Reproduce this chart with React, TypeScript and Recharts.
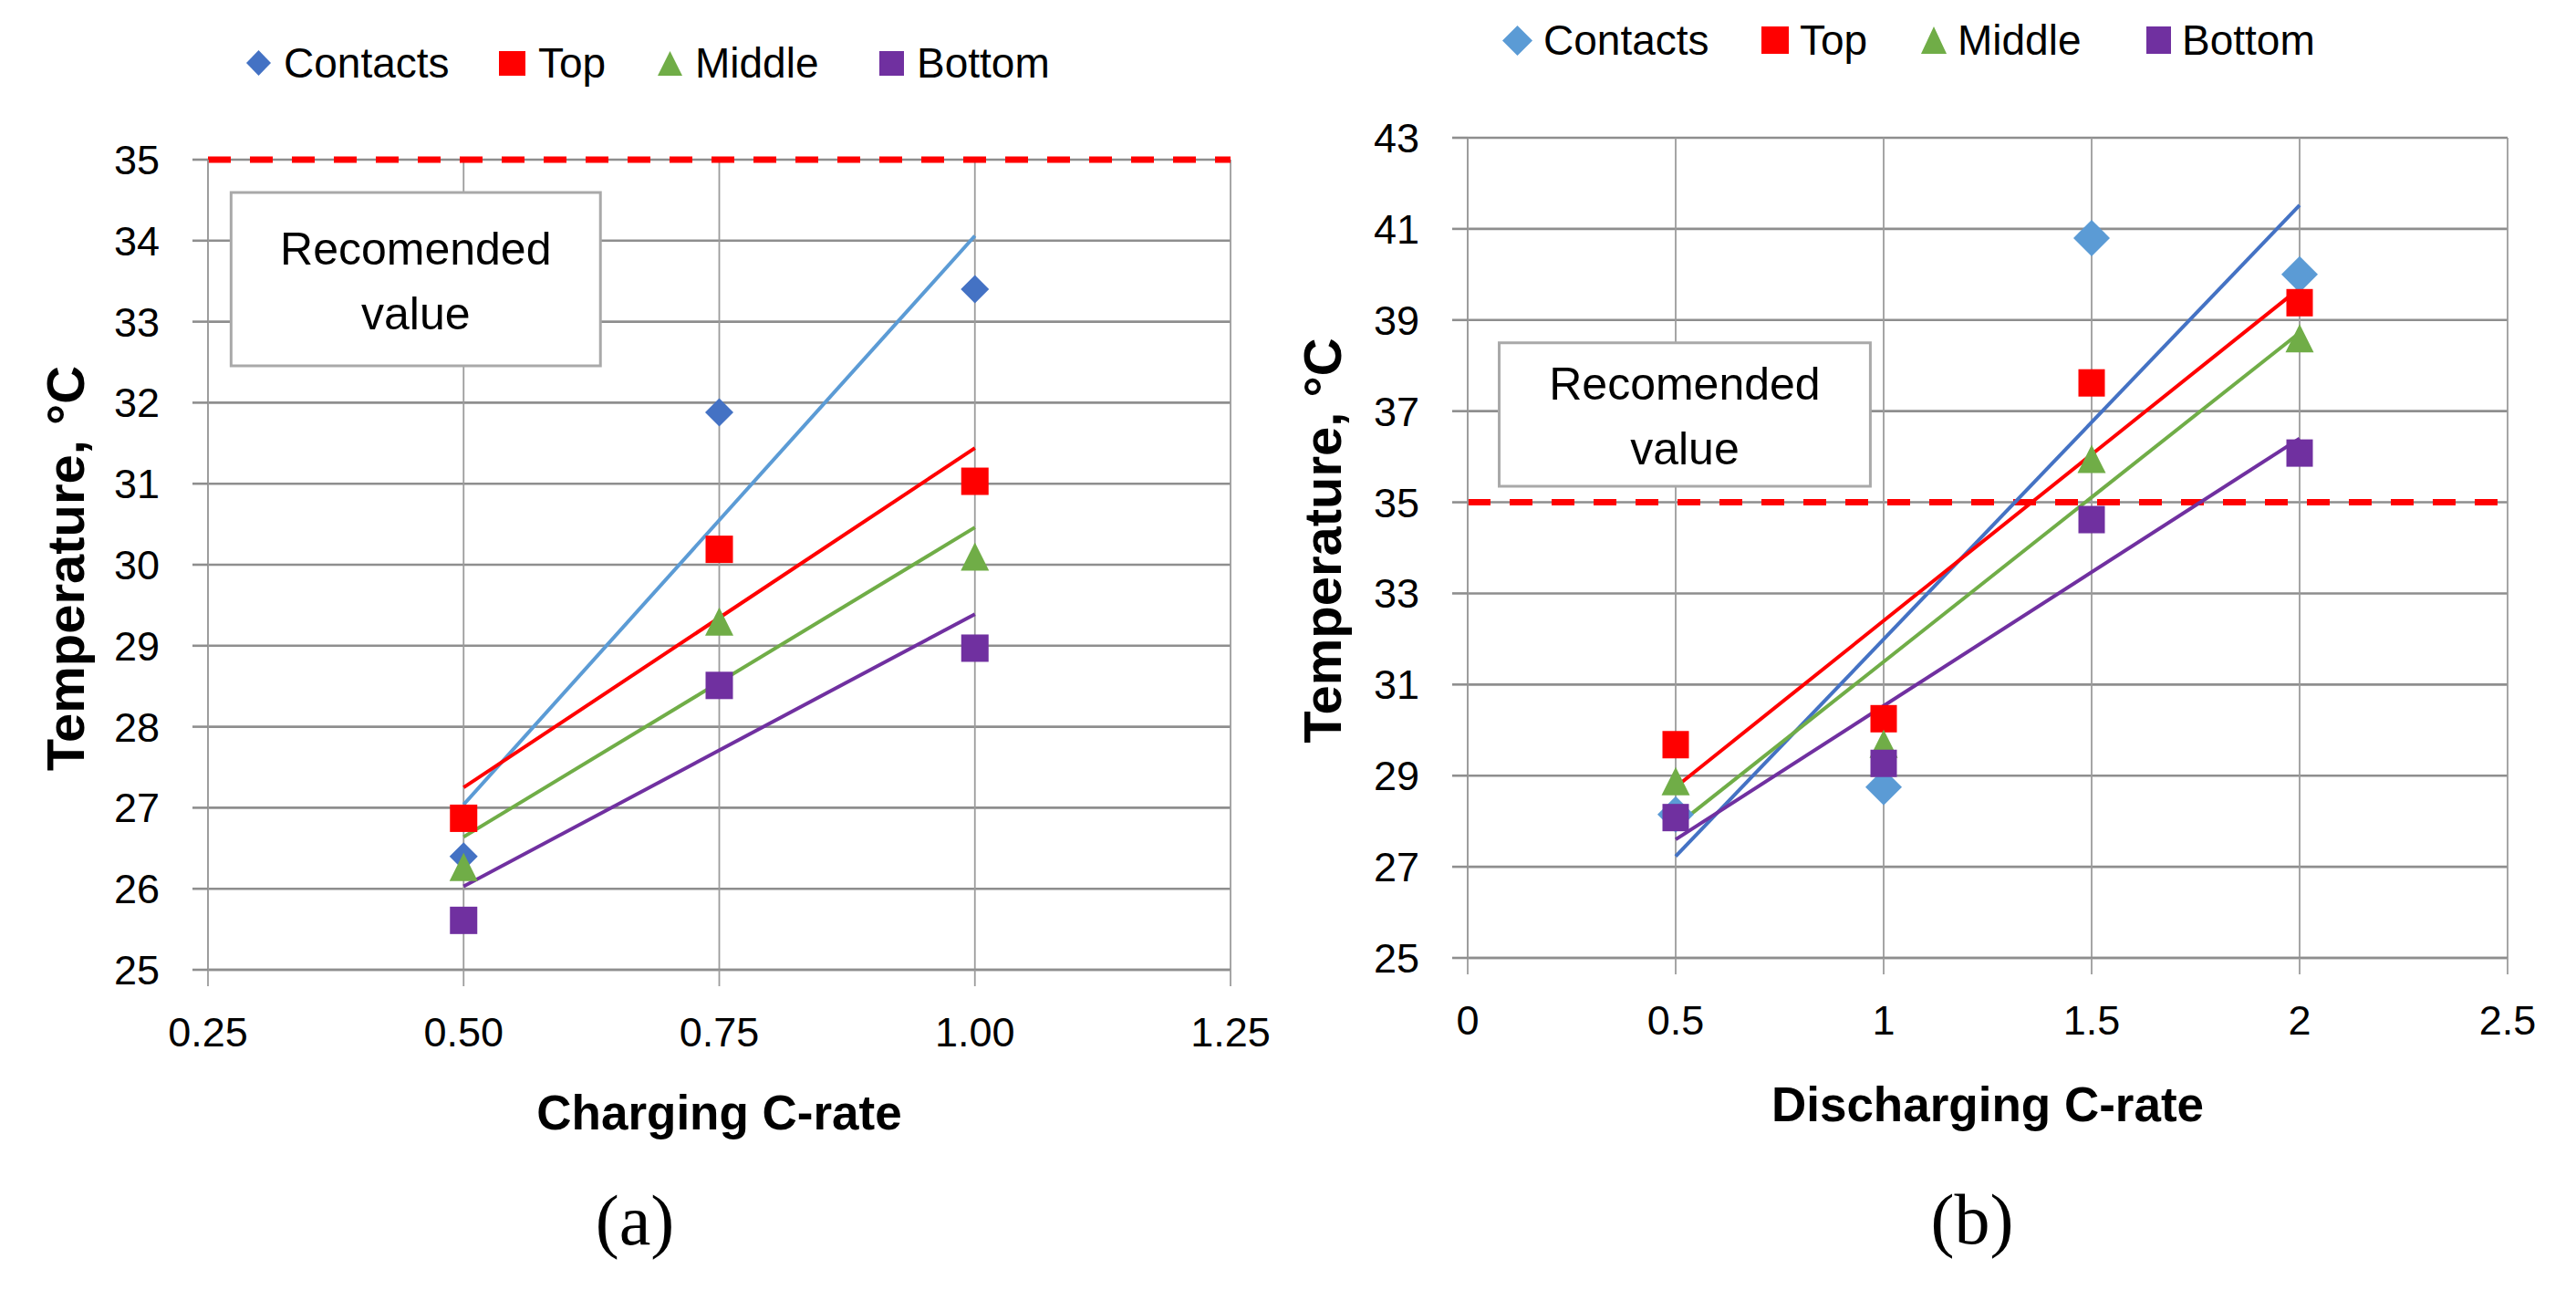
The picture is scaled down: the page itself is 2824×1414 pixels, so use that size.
import React from 'react';
import {
  ComposedChart,
  Scatter,
  Line,
  XAxis,
  YAxis,
  CartesianGrid,
  ReferenceLine,
  ReferenceArea,
  Legend,
  Label,
} from 'recharts';

// ---------- data ----------
const seriesNames = ['Contacts', 'Top', 'Middle', 'Bottom'];

// (a) charging
const chargingRates = [0.5, 0.75, 1.0];
const chargingContacts = [26.4, 31.88, 33.4];
const chargingTop = [26.87, 30.19, 31.03];
const chargingMiddle = [26.27, 29.3, 30.1];
const chargingBottom = [25.61, 28.51, 28.97];
const chargingTrendX = [0.5, 1.0];
const chargingTrendContacts = [27.04, 34.06];
const chargingTrendTop = [27.25, 31.44];
const chargingTrendMiddle = [26.64, 30.46];
const chargingTrendBottom = [26.03, 29.39];
const chargingXTicks = [0.25, 0.5, 0.75, 1.0, 1.25];
const chargingYTicks = [25, 26, 27, 28, 29, 30, 31, 32, 33, 34, 35];

// (b) discharging
const dischargingRates = [0.5, 1, 1.5, 2];
const dischargingContacts = [28.15, 28.75, 40.8, 40.0];
const dischargingTop = [29.68, 30.25, 37.62, 39.38];
const dischargingMiddle = [28.88, 29.7, 35.95, 38.6];
const dischargingBottom = [28.08, 29.27, 34.62, 36.08];
const dischargingTrendX = [0.5, 2];
const dischargingTrendContacts = [27.23, 41.52];
const dischargingTrendTop = [28.75, 39.7];
const dischargingTrendMiddle = [27.89, 38.72];
const dischargingTrendBottom = [27.6, 36.4];
const dischargingXTicks = [0, 0.5, 1, 1.5, 2, 2.5];
const dischargingYTicks = [25, 27, 29, 31, 33, 35, 37, 39, 41, 43];

const recommendedLimit = 35;

// ---------- styles ----------
const SANS = "'Liberation Sans', Arial, sans-serif";
const SERIF = "'Liberation Serif', 'Times New Roman', serif";
const RED = '#FF0000';
const GREEN = '#70AD47';
const PURPLE = '#7030A0';
const BLUE_DARK = '#4472C4';
const BLUE_LIGHT = '#5B9BD5';
const GRID_H = '#8e8e8e';
const GRID_V = '#9c9c9c';

type Kind = 'diamond' | 'square' | 'triangle';

const toPoints = (xs: number[], ys: number[]) => xs.map((x, i) => ({ x, y: ys[i] }));

function polyPoints(kind: Kind, cx: number, cy: number, w: number, h: number) {
  const hw = w / 2;
  const hh = h / 2;
  if (kind === 'diamond') return `${cx},${cy - hh} ${cx + hw},${cy} ${cx},${cy + hh} ${cx - hw},${cy}`;
  if (kind === 'triangle') return `${cx},${cy - hh} ${cx + hw},${cy + hh} ${cx - hw},${cy + hh}`;
  return `${cx - hw},${cy - hh} ${cx + hw},${cy - hh} ${cx + hw},${cy + hh} ${cx - hw},${cy + hh}`;
}

const makeShape = (kind: Kind, w: number, h: number, color: string) => (props: any) => {
  const { cx, cy } = props;
  if (cx == null || cy == null) return <g />;
  return <polygon points={polyPoints(kind, cx, cy, w, h)} fill={color} />;
};

const hLine = (p: any) => (
  <line key={p.key} x1={p.x1} y1={p.y1} x2={p.x2} y2={p.y2} stroke={GRID_H} strokeWidth={2.6} />
);
const vLine = (p: any) => (
  <line key={p.key} x1={p.x1} y1={p.y1} x2={p.x2} y2={p.y2} stroke={GRID_V} strokeWidth={1.8} />
);

interface SeriesDef {
  name: string;
  kind: Kind;
  color: string;
  lineColor: string;
  w: number;
  h: number;
  lw: number;
  lh: number;
  itemWidth: number;
  points: { x: number; y: number }[];
  trend: { x: number; y: number }[];
}

interface PanelProps {
  left: number;
  margin: { top: number; right: number; bottom: number; left: number };
  yAxisWidth: number;
  xDomain: [number, number];
  xTicks: number[];
  xFmt: (v: number) => string;
  yDomain: [number, number];
  yTicks: number[];
  series: SeriesDef[];
  box: { x1: number; x2: number; y1: number; y2: number };
  xTitle: string;
  xTitleDy: number;
  yTitleX: number;
  yTitleDy: number;
  legendLeft: number;
  legendTop: number;
  legendGap: number;
}

function Panel(p: PanelProps) {
  const legendContent = () => (
    <div style={{ display: 'flex', alignItems: 'center', height: 50, fontFamily: SANS, fontSize: 46, color: '#000' }}>
      {p.series.map((s) => (
        <div key={s.name} style={{ display: 'flex', alignItems: 'center', width: s.itemWidth, flex: 'none' }}>
          <svg width={s.lw} height={s.lh} style={{ display: 'block', flex: 'none' }}>
            <polygon points={polyPoints(s.kind, s.lw / 2, s.lh / 2, s.lw, s.lh)} fill={s.color} />
          </svg>
          <span style={{ marginLeft: p.legendGap, whiteSpace: 'nowrap', lineHeight: '50px' }}>{s.name}</span>
        </div>
      ))}
    </div>
  );

  return (
    <div style={{ position: 'absolute', left: p.left, top: 0, width: 1412, height: 1414 }}>
      <ComposedChart width={1412} height={1414} margin={p.margin}>
        <CartesianGrid horizontal={hLine} vertical={vLine} />
        <XAxis
          type="number"
          dataKey="x"
          domain={p.xDomain}
          ticks={p.xTicks}
          interval={0}
          allowDataOverflow
          tickFormatter={p.xFmt}
          height={200}
          tickSize={18}
          tickMargin={34}
          axisLine={{ stroke: GRID_H, strokeWidth: 2.6 }}
          tickLine={{ stroke: GRID_V, strokeWidth: 1.8 }}
          tick={{ fill: '#000', fontSize: 45, fontFamily: SANS }}
        >
          <Label
            content={(lp: any) => {
              const vb = lp.viewBox || {};
              return (
                <text
                  x={vb.x + vb.width / 2}
                  y={vb.y + p.xTitleDy}
                  textAnchor="middle"
                  fontFamily={SANS}
                  fontWeight="bold"
                  fontSize={53}
                  fill="#000"
                >
                  {p.xTitle}
                </text>
              );
            }}
          />
        </XAxis>
        <YAxis
          type="number"
          dataKey="y"
          domain={p.yDomain}
          ticks={p.yTicks}
          interval={0}
          allowDataOverflow
          width={p.yAxisWidth}
          tickSize={17}
          tickMargin={36}
          axisLine={{ stroke: GRID_V, strokeWidth: 1.8 }}
          tickLine={{ stroke: GRID_H, strokeWidth: 2.6 }}
          tick={{ fill: '#000', fontSize: 45, fontFamily: SANS }}
        >
          <Label
            content={(lp: any) => {
              const vb = lp.viewBox || {};
              const x = vb.x + p.yTitleX;
              const y = vb.y + vb.height / 2 + p.yTitleDy;
              return (
                <text
                  x={x}
                  y={y}
                  transform={`rotate(-90 ${x} ${y})`}
                  textAnchor="middle"
                  fontFamily={SANS}
                  fontWeight="bold"
                  fontSize={58}
                  fill="#000"
                >
                  Temperature, °C
                </text>
              );
            }}
          />
        </YAxis>
        <ReferenceArea
          x1={p.box.x1}
          x2={p.box.x2}
          y1={p.box.y1}
          y2={p.box.y2}
          fill="#ffffff"
          fillOpacity={1}
          stroke="#a9a9a9"
          strokeWidth={3}
          label={(lp: any) => {
            const vb = lp.viewBox || {};
            const cx = vb.x + vb.width / 2;
            const cy = vb.y + vb.height / 2;
            return (
              <g>
                <text x={cx} y={cy - 16} textAnchor="middle" fontFamily={SANS} fontSize={50} fill="#000">
                  Recomended
                </text>
                <text x={cx} y={cy + 55} textAnchor="middle" fontFamily={SANS} fontSize={50} fill="#000">
                  value
                </text>
              </g>
            );
          }}
        />
        <ReferenceLine y={recommendedLimit} stroke={RED} strokeWidth={7} strokeDasharray="25 21" />
        {p.series.map((s) => (
          <Scatter
            key={'s-' + s.name}
            name={s.name}
            data={s.points}
            dataKey="y"
            fill={s.color}
            shape={makeShape(s.kind, s.w, s.h, s.color)}
            isAnimationActive={false}
          />
        ))}
        {p.series.map((s) => (
          <Line
            key={'l-' + s.name}
            data={s.trend}
            dataKey="y"
            type="linear"
            stroke={s.lineColor}
            strokeWidth={4}
            dot={false}
            activeDot={false}
            legendType="none"
            isAnimationActive={false}
          />
        ))}
        <Legend
          layout="horizontal"
          verticalAlign="middle"
          align="center"
          content={legendContent}
          wrapperStyle={{ left: p.legendLeft, top: p.legendTop, width: 1100, height: 50 }}
        />
      </ComposedChart>
    </div>
  );
}

const chargingSeries: SeriesDef[] = [
  { name: seriesNames[0], kind: 'diamond', color: BLUE_DARK, lineColor: BLUE_LIGHT, w: 31, h: 31, lw: 27, lh: 28, itemWidth: 277, points: toPoints(chargingRates, chargingContacts), trend: toPoints(chargingTrendX, chargingTrendContacts) },
  { name: seriesNames[1], kind: 'square', color: RED, lineColor: RED, w: 30, h: 30, lw: 29, lh: 27, itemWidth: 174, points: toPoints(chargingRates, chargingTop), trend: toPoints(chargingTrendX, chargingTrendTop) },
  { name: seriesNames[2], kind: 'triangle', color: GREEN, lineColor: GREEN, w: 31, h: 31, lw: 27, lh: 27, itemWidth: 243, points: toPoints(chargingRates, chargingMiddle), trend: toPoints(chargingTrendX, chargingTrendMiddle) },
  { name: seriesNames[3], kind: 'square', color: PURPLE, lineColor: PURPLE, w: 30, h: 30, lw: 27, lh: 27, itemWidth: 300, points: toPoints(chargingRates, chargingBottom), trend: toPoints(chargingTrendX, chargingTrendBottom) },
];

const dischargingSeries: SeriesDef[] = [
  { name: seriesNames[0], kind: 'diamond', color: BLUE_LIGHT, lineColor: BLUE_DARK, w: 40, h: 40, lw: 33, lh: 33, itemWidth: 284, points: toPoints(dischargingRates, dischargingContacts), trend: toPoints(dischargingTrendX, dischargingTrendContacts) },
  { name: seriesNames[1], kind: 'square', color: RED, lineColor: RED, w: 29, h: 30, lw: 30, lh: 30, itemWidth: 175, points: toPoints(dischargingRates, dischargingTop), trend: toPoints(dischargingTrendX, dischargingTrendTop) },
  { name: seriesNames[2], kind: 'triangle', color: GREEN, lineColor: GREEN, w: 31, h: 31, lw: 28, lh: 30, itemWidth: 247, points: toPoints(dischargingRates, dischargingMiddle), trend: toPoints(dischargingTrendX, dischargingTrendMiddle) },
  { name: seriesNames[3], kind: 'square', color: PURPLE, lineColor: PURPLE, w: 29, h: 30, lw: 27, lh: 30, itemWidth: 300, points: toPoints(dischargingRates, dischargingBottom), trend: toPoints(dischargingTrendX, dischargingTrendBottom) },
];

export default function App() {
  return (
    <div
      style={{
        position: 'absolute',
        left: 0,
        top: 0,
        width: 2824,
        height: 1414,
        background: '#ffffff',
        overflow: 'hidden',
      }}
    >
      <Panel
        left={0}
        margin={{ top: 175, right: 63, bottom: 151, left: 0 }}
        yAxisWidth={228}
        xDomain={[0.25, 1.25]}
        xTicks={chargingXTicks}
        xFmt={(v: number) => v.toFixed(2)}
        yDomain={[25, 35]}
        yTicks={chargingYTicks}
        series={chargingSeries}
        box={{ x1: 0.2726, x2: 0.6338, y1: 32.455, y2: 34.595 }}
        xTitle="Charging C-rate"
        xTitleDy={175}
        yTitleX={92}
        yTitleDy={4}
        legendLeft={270}
        legendTop={44}
        legendGap={14}
      />
      <Panel
        left={1412}
        margin={{ top: 151, right: 75, bottom: 164, left: 0 }}
        yAxisWidth={197}
        xDomain={[0, 2.5]}
        xTicks={dischargingXTicks}
        xFmt={(v: number) => String(v)}
        yDomain={[25, 43]}
        yTicks={dischargingYTicks}
        series={dischargingSeries}
        box={{ x1: 0.0757, x2: 0.968, y1: 35.35, y2: 38.5 }}
        xTitle="Discharging C-rate"
        xTitleDy={179}
        yTitleX={58}
        yTitleDy={-8}
        legendLeft={235}
        legendTop={19}
        legendGap={12}
      />
      <div
        style={{
          position: 'absolute',
          left: 696,
          top: 1338,
          transform: 'translate(-50%, -50%)',
          fontFamily: SERIF,
          fontSize: 78,
          lineHeight: 1,
          color: '#000',
          whiteSpace: 'nowrap',
        }}
      >
        (a)
      </div>
      <div
        style={{
          position: 'absolute',
          left: 2162,
          top: 1337,
          transform: 'translate(-50%, -50%)',
          fontFamily: SERIF,
          fontSize: 78,
          lineHeight: 1,
          color: '#000',
          whiteSpace: 'nowrap',
        }}
      >
        (b)
      </div>
    </div>
  );
}
